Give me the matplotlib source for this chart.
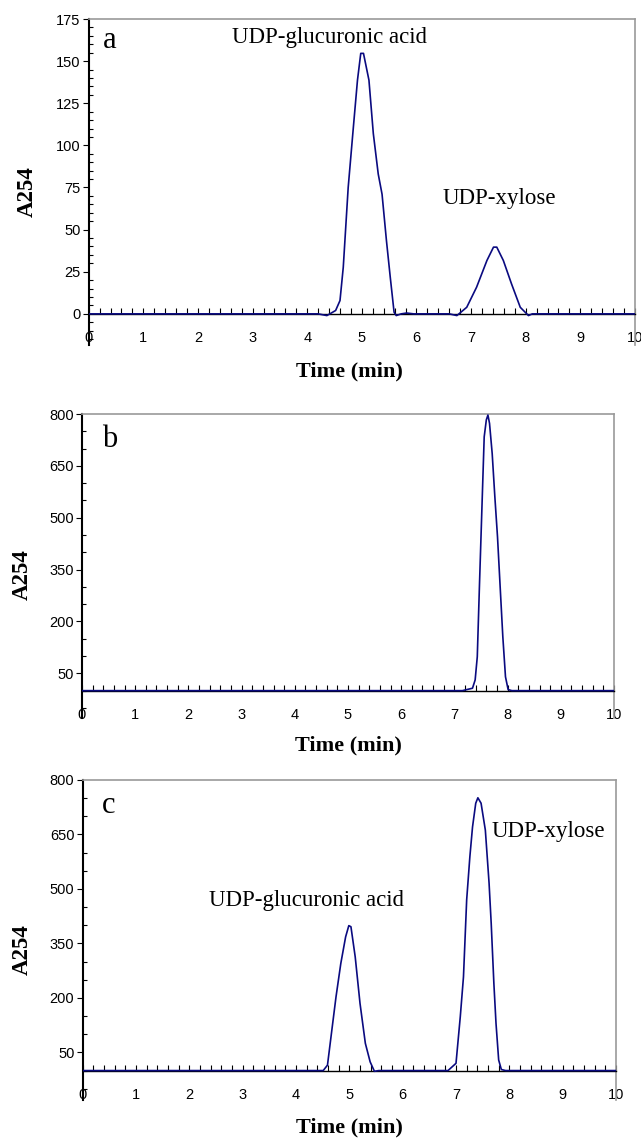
import matplotlib.pyplot as plt
from matplotlib.ticker import FixedLocator, MultipleLocator

plt.rcParams['font.family'] = ['Liberation Sans', 'DejaVu Sans']

# panel a: standards
time_a = [0, 4.2, 4.36, 4.52, 4.60, 4.66, 4.75, 4.84, 4.92, 4.98, 5.03, 5.13,
          5.21, 5.30, 5.37, 5.45, 5.52, 5.59, 5.63, 5.72, 5.82, 5.95, 6.6, 6.74,
          6.92, 7.10, 7.29, 7.41, 7.47, 7.59, 7.74, 7.90, 8.05, 8.12, 10]
abs_a = [0, 0, -1, 2, 7.9, 27.7, 75, 109, 138.7, 154.6, 154.6, 138.7,
         107, 83, 71, 43.6, 21.8, 1, -1, 0, 0.5, 0, 0, -1,
         3.9, 15.8, 31.7, 39.6, 39.6, 31.7, 17.8, 3.9, -1, 0, 0]

# panel b: enzyme reaction product
time_b = [0, 7.15, 7.34, 7.39, 7.43, 7.47, 7.53, 7.56, 7.60, 7.63, 7.66, 7.71,
          7.76, 7.81, 7.86, 7.91, 7.96, 8.01, 8.08, 10]
abs_b = [0, 0, 7, 31, 98, 300, 590, 734, 783, 797, 773, 686,
         561, 445, 300, 156, 40, 3, 0, 0]

# panel c: mixture
time_c = [0, 4.51, 4.59, 4.68, 4.75, 4.84, 4.93, 4.99, 5.03, 5.11, 5.20, 5.30,
          5.39, 5.47, 5.55, 6.85, 7.00, 7.08, 7.14, 7.20, 7.26, 7.31, 7.37, 7.41,
          7.47, 7.55, 7.62, 7.66, 7.71, 7.75, 7.80, 7.85, 7.93, 10]
abs_c = [0, 0, 15, 121, 203, 295, 368, 399, 396, 313, 185, 75,
         24, -2, 0, 0, 20, 148, 258, 470, 589, 671, 736, 751,
         736, 662, 516, 405, 240, 130, 29, 3, 0, 0]

x_ticks = list(range(0, 11))
yticks_a = [0, 25, 50, 75, 100, 125, 150, 175]
yticks_bc = [50, 200, 350, 500, 650, 800]

LINE = '#0a0a80'
SERIF = ['Liberation Serif', 'DejaVu Serif']

fig = plt.figure(figsize=(6.41, 11.38), dpi=100)

panels = [
    dict(rect=[0.1384, 0.6968, 0.8522, 0.2865], t=time_a, y=abs_a, ylim=(-18.5, 175),
         yticks=yticks_a, yminor=5, letter='a', letter_pos=(0.26, 158),
         notes=[('UDP-glucuronic acid', 2.62, 161), ('UDP-xylose', 6.48, 65)],
         xlab_x=0.478),
    dict(rect=[0.1279, 0.3691, 0.8300, 0.2671], t=time_b, y=abs_b, ylim=(-79, 800),
         yticks=yticks_bc, yminor=50, letter='b', letter_pos=(0.37, 704),
         notes=[], xlab_x=0.5),
    dict(rect=[0.1290, 0.0334, 0.8320, 0.2812], t=time_c, y=abs_c, ylim=(-81, 800),
         yticks=yticks_bc, yminor=50, letter='c', letter_pos=(0.36, 708),
         notes=[('UDP-glucuronic acid', 2.37, 453), ('UDP-xylose', 7.66, 644)],
         xlab_x=0.5),
]

for p in panels:
    ax = fig.add_axes(p['rect'])
    ax.plot(p['t'], p['y'], color=LINE, lw=1.2, zorder=3)
    ax.set_xlim(0, 10)
    ax.set_ylim(*p['ylim'])

    ax.spines['bottom'].set_position(('data', 0))
    ax.spines['bottom'].set_color('black')
    ax.spines['bottom'].set_linewidth(1.0)
    ax.spines['left'].set_color('black')
    ax.spines['left'].set_linewidth(1.5)
    for s in ('top', 'right'):
        ax.spines[s].set_color('#9a9a9a')
        ax.spines[s].set_linewidth(1.2)

    # x axis: only small upward ticks every 0.2 min, labels at whole minutes
    ax.xaxis.remove_overlapping_locs = False
    ax.xaxis.set_major_locator(FixedLocator(x_ticks))
    ax.xaxis.set_minor_locator(MultipleLocator(0.2))
    ax.tick_params(axis='x', which='major', length=0, pad=12.5, labelsize=10.5,
                   colors='black')
    ax.tick_params(axis='x', which='minor', direction='in', length=4, width=0.8)

    ax.yaxis.set_major_locator(FixedLocator(p['yticks']))
    ax.yaxis.set_minor_locator(MultipleLocator(p['yminor']))
    ax.tick_params(axis='y', which='major', direction='out', length=4, width=0.8,
                   pad=2, labelsize=10.5)
    ax.tick_params(axis='y', which='minor', direction='in', length=3, width=0.8)

    ax.set_ylabel('A254', family=SERIF, fontsize=16.5, fontweight='bold')
    ax.yaxis.set_label_coords(-0.093, 0.47)
    ax.set_xlabel('Time (min)', family=SERIF, fontsize=16, fontweight='bold', va='center')

    ax.text(*p['letter_pos'], p['letter'], family=SERIF, fontsize=22, va='baseline')
    for txt, tx, ty in p['notes']:
        ax.text(tx, ty, txt, family=SERIF, fontsize=16.5, va='baseline')

fig.canvas.draw()
# place the x labels below the tick labels (pixel rows)
for ax, yc, p in zip(fig.axes, [371, 745, 1127], panels):
    bb = ax.get_window_extent()
    H = fig.bbox.height
    y_ax = ((H - yc) - bb.y0) / bb.height
    ax.xaxis.set_label_coords(p['xlab_x'], y_ax)

fig.savefig('out.png', dpi=100)
